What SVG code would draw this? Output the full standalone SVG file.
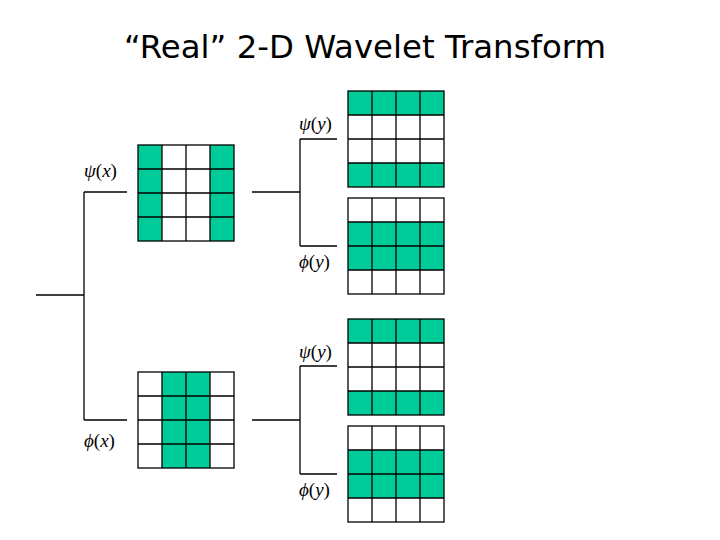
<svg xmlns="http://www.w3.org/2000/svg" width="720" height="540" viewBox="0 0 720 540">
<style>
.c{stroke:#000;stroke-width:1.3;fill:none}
.g{fill:#00cc99}
.l{stroke:#000;stroke-width:1.3;fill:none}
.t{font-family:"Liberation Serif",serif;font-size:19px}
.i{font-style:italic}
</style>
<defs>
<g id="grid">
<rect class="c" x="0" y="0" width="96" height="96"/>
<path class="l" d="M24 0V96M48 0V96M72 0V96M0 24H96M0 48H96M0 72H96"/>
</g>
</defs>
<rect width="720" height="540" fill="#fff"/>
<text x="365" y="58" text-anchor="middle" font-family="DejaVu Sans,sans-serif" font-size="32" textLength="482" lengthAdjust="spacingAndGlyphs">“Real” 2-D Wavelet Transform</text>
<g id="connectors">
<path class="l" d="M36 295H84M84 192V420M84 192H127M84 420H127"/>
<path class="l" d="M252 192H300M300 139V246M300 139H337M300 246H337"/>
<path class="l" d="M252 420H300M300 366V474M300 366H337M300 474H337"/>
</g>
<g id="psi-x">
<rect class="g" x="138" y="145" width="24" height="96"/><rect class="g" x="210" y="145" width="24" height="96"/>
<use href="#grid" x="138" y="145"/>
<text class="t" x="84" y="177"><tspan class="i">ψ</tspan>(<tspan class="i">x</tspan>)</text>
</g>
<g id="phi-x">
<rect class="g" x="162" y="372" width="48" height="96"/>
<use href="#grid" x="138" y="372"/>
<text class="t" x="84" y="447"><tspan class="i">ϕ</tspan>(<tspan class="i">x</tspan>)</text>
</g>
<g id="psi-x-psi-y">
<rect class="g" x="348" y="91" width="96" height="24"/><rect class="g" x="348" y="163" width="96" height="24"/>
<use href="#grid" x="348" y="91"/>
<text class="t" x="299" y="130"><tspan class="i">ψ</tspan>(<tspan class="i">y</tspan>)</text>
</g>
<g id="psi-x-phi-y">
<rect class="g" x="348" y="222" width="96" height="48"/>
<use href="#grid" x="348" y="198"/>
<text class="t" x="299" y="268"><tspan class="i">ϕ</tspan>(<tspan class="i">y</tspan>)</text>
</g>
<g id="phi-x-psi-y">
<rect class="g" x="348" y="319" width="96" height="24"/><rect class="g" x="348" y="391" width="96" height="24"/>
<use href="#grid" x="348" y="319"/>
<text class="t" x="299" y="358"><tspan class="i">ψ</tspan>(<tspan class="i">y</tspan>)</text>
</g>
<g id="phi-x-phi-y">
<rect class="g" x="348" y="450" width="96" height="48"/>
<use href="#grid" x="348" y="426"/>
<text class="t" x="299" y="496"><tspan class="i">ϕ</tspan>(<tspan class="i">y</tspan>)</text>
</g>
</svg>
